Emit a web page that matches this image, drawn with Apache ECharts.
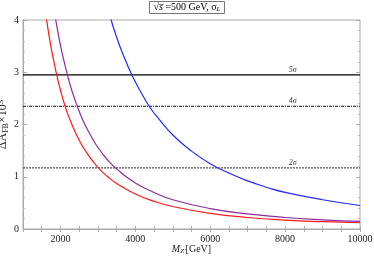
<!DOCTYPE html>
<html><head><meta charset="utf-8">
<script src="https://cdn.jsdelivr.net/npm/echarts@6/dist/echarts.min.js"></script>
<style>html,body{margin:0;padding:0;background:#fff}#c{width:374px;height:256px}</style>
</head><body><div id="c"></div>
<script>
// Data
const redMZ    = [1550, 1600, 1700, 1800, 1900, 2000, 2125, 2250, 2500, 2750, 3000, 3250, 3500, 4000, 4500, 5000, 6000, 7000, 8000, 9000, 10000];
const redVal   = [4.40, 4.16, 3.68, 3.29, 2.95, 2.66, 2.35, 2.10, 1.70, 1.41, 1.18, 1.01, 0.87, 0.67, 0.53, 0.43, 0.30, 0.22, 0.17, 0.14, 0.12];
const purMZ    = [1800, 1850, 1950, 2050, 2185, 2300, 2450, 2600, 2800, 3000, 3250, 3500, 4000, 4500, 5000, 6000, 7000, 8000, 9000, 10000];
const purVal   = [4.35, 4.11, 3.70, 3.35, 2.95, 2.66, 2.35, 2.08, 1.80, 1.56, 1.33, 1.15, 0.88, 0.70, 0.56, 0.39, 0.29, 0.22, 0.175, 0.145];
const bluMZ    = [3200, 3300, 3500, 3700, 3906, 4100, 4370, 4600, 5000, 5500, 6000, 6500, 7000, 7500, 8000, 9000, 10000];
const bluVal   = [4.39, 4.13, 3.67, 3.29, 2.95, 2.68, 2.35, 2.13, 1.80, 1.49, 1.25, 1.07, 0.92, 0.80, 0.70, 0.56, 0.45];
const sigmaLevels = [2.95, 2.35, 1.17];
const sigmaNames  = ['5σ', '4σ', '2σ'];
const xTickLabels = [2000, 4000, 6000, 8000, 10000];
const yTickLabels = [0, 1, 2, 3, 4];

const serif = '"Liberation Serif", "DejaVu Serif", serif';
const chart = echarts.init(document.getElementById('c'), null, {renderer: 'canvas'});

function pairs(xs, ys) { return xs.map((x, i) => [x, ys[i]]); }

const sigmaStyles = [
  {color: '#000', width: 1.1, type: 'solid'},
  {color: '#111', width: 1.1, type: [3, 1, 1, 1]},
  {color: '#555', width: 1.3, type: [2, 1]}
];

const curveCommon = {type: 'line', smooth: 0.5, symbol: 'none', clip: true, z: 3};
const series = [
  Object.assign({data: pairs(redMZ, redVal), lineStyle: {color: '#ff1a1a', width: 1.2}}, curveCommon),
  Object.assign({data: pairs(purMZ, purVal), lineStyle: {color: '#8e2a9c', width: 1.2}}, curveCommon),
  Object.assign({data: pairs(bluMZ, bluVal), lineStyle: {color: '#1f2cff', width: 1.2}}, curveCommon)
];
sigmaLevels.forEach((v, i) => {
  series.push({type: 'line', data: [[1000, v], [10000, v]], symbol: 'none', lineStyle: sigmaStyles[i], z: 2});
  series.push({type: 'scatter', data: [[8200, v]], symbolSize: 0, silent: true,
    label: {show: true, position: 'top', distance: 1, formatter: sigmaNames[i],
      fontFamily: serif, fontSize: 8, fontStyle: 'italic', color: '#000'}});
});

chart.setOption({
  animation: false,
  backgroundColor: '#fff',
  title: {
    text: '{a|√}{o|s\u0305}{a| =500 GeV, σ}{sub|L}',
    left: 'center', top: 1,
    padding: [1, 4, 1, 4],
    borderColor: '#777', borderWidth: 1,
    textStyle: {
      fontWeight: 'normal',
      rich: {
        a: {fontFamily: serif, fontSize: 10, color: '#000', fontWeight: 'normal'},
        o: {fontFamily: serif, fontSize: 10, color: '#000', fontStyle: 'italic', fontWeight: 'normal'},
        sub: {fontFamily: serif, fontSize: 7, color: '#000', fontStyle: 'italic', fontWeight: 'normal', verticalAlign: 'bottom', padding: [4, 0, 0, 0]}
      }
    }
  },
  grid: {left: 23, right: 14, top: 20, bottom: 27, show: true, borderColor: '#aaa', borderWidth: 1,
    containLabel: false, outerBoundsMode: 'none'},
  xAxis: [{
    type: 'value', min: 1000, max: 10000, interval: 500,
    name: '{i|M}{s|Z\'}{n|[GeV]}', nameLocation: 'middle', nameGap: 15, nameMoveOverlap: false,
    nameTextStyle: {verticalAlign: 'top', rich: {
      i: {fontFamily: serif, fontSize: 10, fontStyle: 'italic', color: '#222'},
      s: {fontFamily: serif, fontSize: 7, fontStyle: 'italic', color: '#222', verticalAlign: 'bottom', padding: [4, 0, 0, 0]},
      n: {fontFamily: serif, fontSize: 10, color: '#222'}
    }},
    axisLine: {show: true, lineStyle: {color: '#aaa'}},
    axisTick: {show: true, inside: true, length: 3, lineStyle: {color: '#aaa'}},
    splitLine: {show: false},
    axisLabel: {fontFamily: serif, fontSize: 10, color: '#222', margin: 5,
      formatter: v => xTickLabels.indexOf(v) >= 0 ? String(v) : ''}
  }, {
    type: 'value', min: 1000, max: 10000, interval: 500, position: 'top',
    axisLine: {show: false}, axisLabel: {show: false}, splitLine: {show: false},
    axisTick: {show: true, inside: true, length: 3, lineStyle: {color: '#aaa'}}
  }],
  yAxis: [{
    type: 'value', min: 0, max: 4, interval: 1,
    name: '{a|ΔA}{s|FB}{a|×10}{p|3}', nameLocation: 'middle', nameGap: 13, nameRotate: 90, nameMoveOverlap: false,
    nameTextStyle: {rich: {
      a: {fontFamily: serif, fontSize: 12, color: '#222'},
      s: {fontFamily: serif, fontSize: 8, color: '#222', verticalAlign: 'bottom', padding: [4, 0, 0, 0]},
      p: {fontFamily: serif, fontSize: 9, color: '#222', verticalAlign: 'top', padding: [0, 0, 5, 0]}
    }},
    axisLine: {show: true, lineStyle: {color: '#aaa'}},
    axisTick: {show: true, inside: true, length: 4, lineStyle: {color: '#aaa'}},
    minorTick: {show: true, splitNumber: 5, length: 2, lineStyle: {color: '#bbb'}},
    splitLine: {show: false},
    axisLabel: {fontFamily: serif, fontSize: 10, color: '#222', margin: 4,
      formatter: v => yTickLabels.indexOf(v) >= 0 ? String(v) : ''}
  }, {
    type: 'value', min: 0, max: 4, interval: 1, position: 'right',
    axisLine: {show: false}, axisLabel: {show: false}, splitLine: {show: false},
    axisTick: {show: true, inside: true, length: 4, lineStyle: {color: '#aaa'}},
    minorTick: {show: true, splitNumber: 5, length: 2, lineStyle: {color: '#bbb'}}
  }],
  series: series
});
</script></body></html>
